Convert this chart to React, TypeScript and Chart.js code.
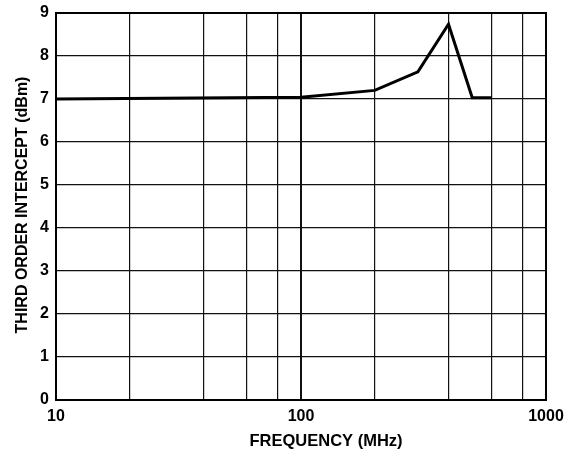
import React, { useEffect, useRef } from "react";
import { Chart, registerables } from "chart.js";

Chart.register(...registerables);

const frequencyMHz = [10, 100, 200, 300, 400, 500, 600];
const interceptDbm = [7.0, 7.04, 7.2, 7.63, 8.74, 7.03, 7.03];
const xGridValues = [10, 20, 40, 60, 80, 100, 200, 400, 600, 800, 1000];
const xLabeledTicks = [10, 100, 1000];
const xTitle = "FREQUENCY (MHz)";
const yTitle = "THIRD ORDER INTERCEPT (dBm)";

const FONT = '"Liberation Sans", Arial, Helvetica, sans-serif';

const framePlugin = {
  id: "frameAndTitles",
  afterDraw(chart: any) {
    const { ctx, chartArea } = chart;
    ctx.save();
    ctx.strokeStyle = "#000";
    ctx.lineWidth = 2;
    ctx.strokeRect(
      chartArea.left,
      chartArea.top,
      chartArea.right - chartArea.left,
      chartArea.bottom - chartArea.top
    );
    ctx.fillStyle = "#000";
    ctx.font = `bold 16.5px ${FONT}`;
    ctx.textAlign = "center";
    ctx.textBaseline = "middle";
    ctx.fillText(xTitle, 326, 441);
    ctx.font = `bold 16px ${FONT}`;
    ctx.translate(23, 205);
    ctx.rotate(-Math.PI / 2);
    ctx.fillText(yTitle, 0, 0);
    ctx.restore();
  },
};

export default function App() {
  const canvasRef = useRef<HTMLCanvasElement | null>(null);

  useEffect(() => {
    if (!canvasRef.current) return;
    const chart = new Chart(canvasRef.current, {
      type: "line",
      data: {
        datasets: [
          {
            data: frequencyMHz.map((x, i) => ({ x, y: interceptDbm[i] })),
            borderColor: "#000",
            borderWidth: 3,
            pointRadius: 0,
            tension: 0,
            fill: false,
          },
        ],
      },
      options: {
        responsive: false,
        animation: false,
        events: [],
        layout: { padding: { top: 13, right: 33, left: 0, bottom: 0 } },
        plugins: {
          legend: { display: false },
          tooltip: { enabled: false },
          title: { display: false },
        },
        scales: {
          x: {
            type: "logarithmic",
            min: 10,
            max: 1000,
            afterBuildTicks: (scale: any) => {
              scale.ticks = xGridValues.map((v) => ({ value: v }));
            },
            afterFit: (scale: any) => {
              scale.height = 53;
              scale.paddingLeft = 0;
              scale.paddingRight = 0;
            },
            grid: {
              color: "#111",
              lineWidth: (ctx: any) => (ctx.tick && ctx.tick.value === 100 ? 2 : 1.2),
              drawTicks: false,
            },
            border: { display: true, color: "#000", width: 2 },
            ticks: {
              autoSkip: false,
              maxRotation: 0,
              padding: 7,
              color: "#000",
              font: { family: FONT, size: 16, weight: "bold" },
              callback: (value: any) =>
                xLabeledTicks.includes(Number(value)) ? String(value) : "",
            },
          },
          y: {
            type: "linear",
            min: 0,
            max: 9,
            afterFit: (scale: any) => {
              scale.width = 56;
              scale.paddingTop = 0;
              scale.paddingBottom = 0;
            },
            grid: { color: "#111", lineWidth: 1.2, drawTicks: false },
            border: { display: true, color: "#000", width: 2 },
            ticks: {
              stepSize: 1,
              padding: 7,
              color: "#000",
              font: { family: FONT, size: 16, weight: "bold" },
            },
          },
        },
      },
      plugins: [framePlugin],
    });
    return () => chart.destroy();
  }, []);

  return (
    <div style={{ position: "absolute", left: 0, top: 0, width: 579, height: 453, background: "#fff" }}>
      <canvas ref={canvasRef} width={579} height={453} />
    </div>
  );
}
